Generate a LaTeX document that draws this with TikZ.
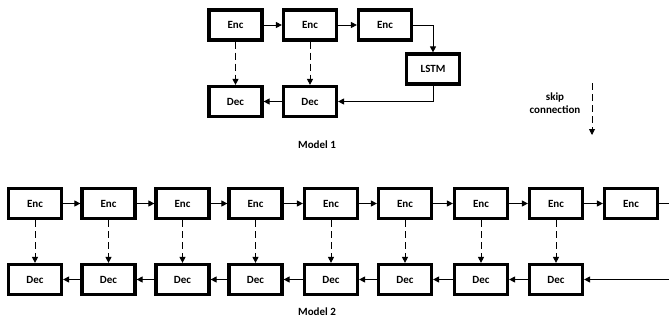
\documentclass[tikz,border=0pt]{standalone}
\usepackage{fontspec}
\setmainfont{Carlito}
\usetikzlibrary{arrows.meta}
\begin{document}
\begin{tikzpicture}[x=1pt,y=-1pt,
  box/.style={draw=black,line width=3.2pt,minimum width=53pt,minimum height=30pt,inner sep=0pt,
    font=\fontsize{11}{13}\selectfont\bfseries,fill=white},
  lbl/.style={font=\fontsize{11}{13}\selectfont\bfseries,inner sep=0pt},
  conn/.style={line width=0.9pt,-{Triangle[length=6pt,width=6pt]}},
  plain/.style={line width=0.9pt},
  skip/.style={conn,dash pattern=on 7pt off 4pt}]
\useasboundingbox (0,0) rectangle (669,327);
% Model 1
\node[box] (m1e1) at (235.5,25) {Enc};
\node[box] (m1e2) at (310,25) {Enc};
\node[box] (m1e3) at (385,25) {Enc};
\node[box] (lstm) at (433,69) {LSTM};
\node[box] (m1d1) at (235.5,101.5) {Dec};
\node[box] (m1d2) at (310,101.5) {Dec};
\node[lbl] (lab1) at (317,145) {Model 1};
\draw[conn] (m1e1) -- (m1e2);
\draw[conn] (m1e2) -- (m1e3);
\draw[conn] (m1e3.east) -| (lstm.north);
\draw[conn] (lstm.south) |- (m1d2.east);
\draw[conn] (m1d2) -- (m1d1);
\draw[skip] (m1e1) -- (m1d1);
\draw[skip] (m1e2) -- (m1d2);
% legend
\node[lbl,align=center] (legtxt) at (555,103.5) {skip\\connection};
\coordinate (legtop) at (592,83);
\coordinate (legbot) at (592,135);
\draw[skip] (legtop) -- (legbot);
% Model 2
\foreach \i/\x in {1/35,2/108.5,3/182.5,4/255.5,5/331,6/405,7/481,8/556,9/631}{
  \node[box] (e\i) at (\x,203.5) {Enc};
}
\foreach \i/\x in {1/35,2/108.5,3/182.5,4/255.5,5/331,6/405,7/481,8/556}{
  \node[box] (d\i) at (\x,279.5) {Dec};
  \draw[skip] (e\i) -- (d\i);
}
\foreach \i/\j in {1/2,2/3,3/4,4/5,5/6,6/7,7/8,8/9}{
  \draw[conn] (e\i) -- (e\j);
}
\foreach \i/\j in {2/1,3/2,4/3,5/4,6/5,7/6,8/7}{
  \draw[conn] (d\i) -- (d\j);
}
\coordinate (eout) at (669,203.5);
\coordinate (din) at (669,279.5);
\draw[plain] (e9) -- (eout);
\draw[conn] (din) -- (d8);
\node[lbl] (lab2) at (317,312) {Model 2};
\end{tikzpicture}
\end{document}
